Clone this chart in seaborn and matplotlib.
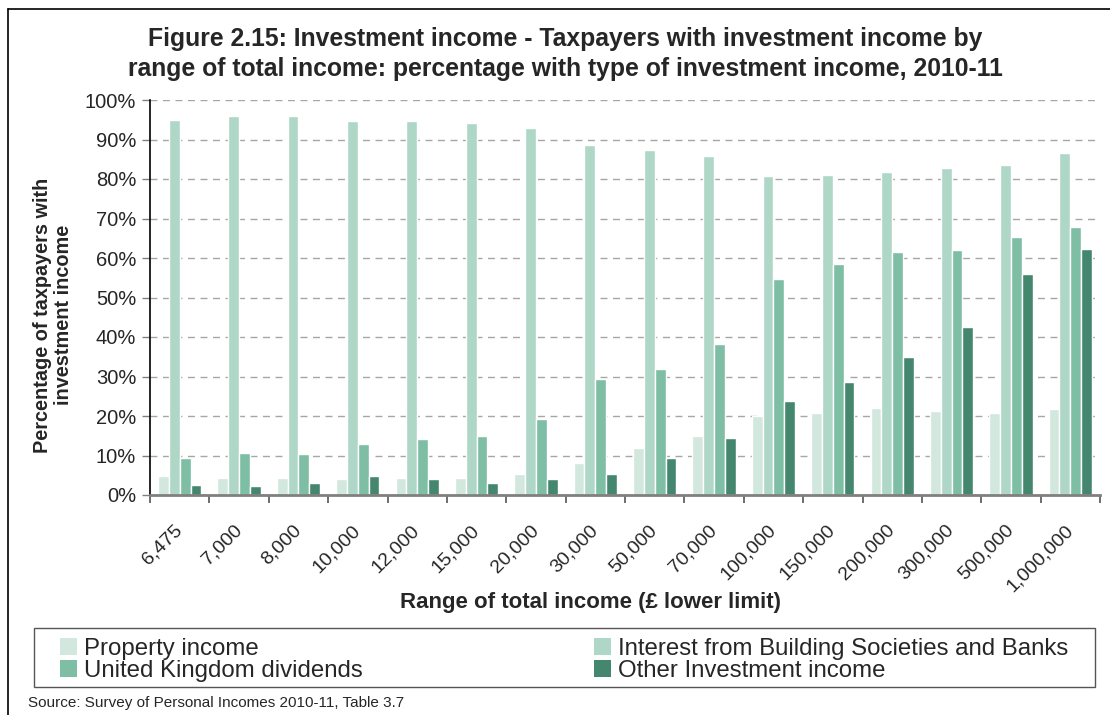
import matplotlib
matplotlib.use("Agg")
import matplotlib.pyplot as plt
from matplotlib.lines import Line2D
from matplotlib.patches import Patch, Rectangle
from matplotlib.ticker import FixedLocator, FuncFormatter, MultipleLocator
from matplotlib.transforms import ScaledTranslation
import numpy as np
import pandas as pd
import seaborn as sns

# Income bands (lower limit of total income, £)
bands = ["6,475", "7,000", "8,000", "10,000", "12,000", "15,000", "20,000",
         "30,000", "50,000", "70,000", "100,000", "150,000", "200,000",
         "300,000", "500,000", "1,000,000"]

# Percentage of taxpayers with investment income holding each type
property_income = [4.8, 4.3, 4.3, 4.0, 4.3, 4.3, 5.3, 8.1, 11.9, 14.9,
                   20.0, 20.7, 22.0, 21.2, 20.7, 21.8]
interest_banks = [94.9, 95.9, 95.9, 94.6, 94.6, 94.1, 92.8, 88.5, 87.3, 85.8,
                  80.7, 80.9, 81.7, 82.7, 83.5, 86.5]
uk_dividends = [9.4, 10.6, 10.4, 12.9, 14.2, 14.9, 19.2, 29.3, 31.9, 38.2,
                54.6, 58.4, 61.5, 62.0, 65.3, 67.8]
other_investment = [2.5, 2.3, 3.0, 4.8, 4.0, 3.0, 4.0, 5.3, 9.4, 14.4,
                    23.8, 28.6, 34.9, 42.5, 55.9, 62.2]

series_names = ["Property income",
                "Interest from Building Societies and Banks",
                "United Kingdom dividends",
                "Other Investment income"]
series_values = [property_income, interest_banks, uk_dividends, other_investment]
series_colors = ["#d2e7de", "#aed7c7", "#7dbea5", "#44876e"]

df = pd.DataFrame({
    "band": np.tile(bands, len(series_names)),
    "type": np.repeat(series_names, len(bands)),
    "pct": np.concatenate(series_values),
})

sns.set_style("white")
plt.rcParams["font.family"] = ["Liberation Sans", "DejaVu Sans"]

W, H = 1110, 715
fig = plt.figure(figsize=(W / 100, H / 100), dpi=100)
ax = fig.add_axes([150 / W, 1 - 495 / H, 950 / W, 395 / H])

sns.barplot(data=df, x="band", y="pct", hue="type", order=bands,
            hue_order=series_names, palette=series_colors, saturation=1,
            width=0.73, gap=0, ax=ax, legend=False, errorbar=None)

ax.set_xlim(-0.5, len(bands) - 0.5)
ax.set_ylim(0, 100)

# y axis: percent ticks with dashed horizontal gridlines
ax.yaxis.set_major_locator(MultipleLocator(10))
ax.yaxis.set_major_formatter(FuncFormatter(lambda v, _: f"{v:.0f}%"))
ax.grid(axis="y", color="#a6a6a6", linestyle=(0, (5, 4)), linewidth=1.0)
ax.grid(axis="x", visible=False)
ax.set_axisbelow(True)

# x axis: labels at band centres, tick marks at band boundaries
ax.set_xticks(range(len(bands)))
ax.set_xticklabels(bands, rotation=45, ha="right", rotation_mode="anchor")
ax.xaxis.set_minor_locator(FixedLocator(np.arange(-0.5, len(bands), 1.0)))
ax.tick_params(axis="x", which="major", length=0, pad=19, labelsize=14)
ax.tick_params(axis="x", which="minor", length=6, width=1.2, color="#555555",
               direction="out", bottom=True)
ax.tick_params(axis="y", length=6, width=1, color="#808080", direction="out",
               left=True, labelsize=14.5, pad=4)
shift = ScaledTranslation(-6 / 100, 0, fig.dpi_scale_trans)
for lbl in ax.get_xticklabels():
    lbl.set_transform(lbl.get_transform() + shift)

for side in ("top", "right"):
    ax.spines[side].set_visible(False)
ax.spines["left"].set_color("black")
ax.spines["left"].set_linewidth(1.2)
ax.spines["bottom"].set_color("#808080")
ax.spines["bottom"].set_linewidth(2)

ax.set_xlabel("Range of total income (£ lower limit)", fontsize=16,
              fontweight="bold")
ax.xaxis.set_label_coords((591 - 150) / 950, -0.245)
ax.set_ylabel("Percentage of taxpayers with\ninvestment income", fontsize=14.3,
              fontweight="bold", linespacing=1.1)
ax.yaxis.set_label_coords((73 - 150) / 950, (495 - 315) / 395)

fig.text(565 / W, 1 - 27 / H,
         "Figure 2.15: Investment income - Taxpayers with investment income by\n"
         "range of total income: percentage with type of investment income, 2010-11",
         ha="center", va="top", fontsize=17.8, fontweight="bold",
         linespacing=1.3)

# Legend: two columns of entries inside a rectangular frame
handles = [Patch(facecolor=c, edgecolor="none") for c in series_colors]
legend_kw = dict(loc="upper left", bbox_transform=fig.transFigure, fontsize=17.3,
                 frameon=False, borderpad=0, borderaxespad=0,
                 handlelength=0.7, handleheight=0.7, handletextpad=0.3,
                 labelspacing=0.0)
fig.legend([handles[0], handles[2]], [series_names[0], series_names[2]],
           bbox_to_anchor=(60 / W, 1 - 638 / H), **legend_kw)
fig.legend([handles[1], handles[3]], [series_names[1], series_names[3]],
           bbox_to_anchor=(594 / W, 1 - 638 / H), **legend_kw)
fig.add_artist(Rectangle((34 / W, 1 - 687 / H), (1095 - 34) / W, 59 / H,
                         transform=fig.transFigure, fill=False,
                         edgecolor="#555555", linewidth=1.0))

fig.text(28 / W, 1 - 703 / H, "Source: Survey of Personal Incomes 2010-11, Table 3.7",
         ha="left", va="center", fontsize=11)

# Outer frame (left and top edges)
fig.add_artist(Line2D([8 / W, 8 / W], [0, 1 - 9 / H], transform=fig.transFigure,
                      color="black", linewidth=1.2))
fig.add_artist(Line2D([8 / W, 1], [1 - 9 / H, 1 - 9 / H], transform=fig.transFigure,
                      color="black", linewidth=1.2))

fig.savefig("out.png", dpi=100, facecolor="white")
